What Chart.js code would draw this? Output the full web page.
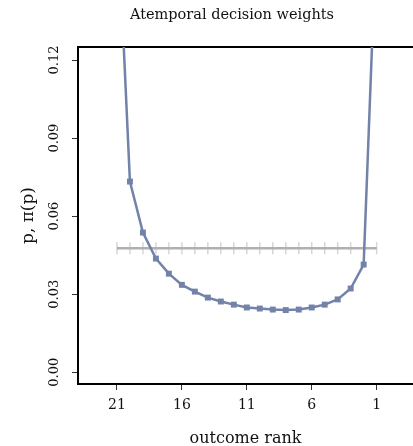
<!DOCTYPE html>
<html>
<head>
<meta charset="utf-8">
<script src="https://cdn.jsdelivr.net/npm/chart.js@4"></script>
<style>
  html, body { margin: 0; padding: 0; background: #fff; overflow: hidden; }
  canvas { display: block; }
</style>
</head>
<body>
<canvas id="c" width="413" height="446"></canvas>
<script>
// ---- data ----
const ranks = [21, 20, 19, 18, 17, 16, 15, 14, 13, 12, 11, 10, 9, 8, 7, 6, 5, 4, 3, 2, 1];
const decisionWeights = [0.182, 0.0733, 0.0537, 0.0437, 0.0379, 0.0336, 0.0310, 0.0287, 0.0272, 0.0260, 0.0249,
                         0.0245, 0.0241, 0.0239, 0.0241, 0.0249, 0.0260, 0.0280, 0.0322, 0.0414, 0.172];
const probabilities = [0.0477, 0.0477, 0.0477, 0.0477, 0.0477, 0.0477, 0.0477, 0.0477, 0.0477, 0.0477, 0.0477,
                       0.0477, 0.0477, 0.0477, 0.0477, 0.0477, 0.0477, 0.0477, 0.0477, 0.0477, 0.0477];
const xTickValues = [21, 16, 11, 6, 1];
const yTickValues = [0.00, 0.03, 0.06, 0.09, 0.12];
const chartTitle = 'Atemporal decision weights';
const xTitle = 'outcome rank';
const yTitle = 'p, π(p)';

const FONT = "'DejaVu Serif', serif";
Chart.defaults.font.family = FONT;
Chart.defaults.color = '#111';

const toXY = (vals) => ranks.map((r, i) => ({ x: r, y: vals[i] }));

new Chart(document.getElementById('c'), {
  type: 'line',
  data: {
    datasets: [
      {
        // tick marks of the probability line
        data: toXY(probabilities),
        showLine: false,
        pointStyle: 'line',
        rotation: 90,
        pointRadius: 6,
        pointHoverRadius: 6,
        pointBorderWidth: 1.5,
        pointBorderColor: '#d6d6d6',
        pointBackgroundColor: '#d6d6d6',
        order: 3,
        xAxisID: 'x', yAxisID: 'y'
      },
      {
        data: toXY(probabilities),
        borderColor: '#b0b0b0',
        borderWidth: 2.5,
        pointRadius: 0,
        pointHoverRadius: 0,
        tension: 0,
        order: 2,
        xAxisID: 'x', yAxisID: 'y'
      },
      {
        data: toXY(decisionWeights),
        borderColor: '#7282a9',
        borderWidth: 2.5,
        pointStyle: 'rect',
        pointRadius: 4.2,
        pointHoverRadius: 4.2,
        pointBorderWidth: 0,
        pointBackgroundColor: '#7282a9',
        tension: 0,
        order: 1,
        xAxisID: 'x', yAxisID: 'y'
      }
    ]
  },
  options: {
    responsive: false,
    animation: false,
    devicePixelRatio: 1,
    layout: { autoPadding: false, padding: { left: 51, right: 0, top: 0, bottom: 0 } },
    plugins: {
      legend: { display: false },
      tooltip: { enabled: false },
      title: {
        display: true,
        text: chartTitle,
        fullSize: true,
        font: { family: FONT, size: 14.5, weight: 'normal' },
        color: '#111',
        padding: { top: 6.3, bottom: 23.3 }
      }
    },
    scales: {
      x: {
        type: 'linear',
        position: 'bottom',
        reverse: true,
        min: -1.8,
        max: 24,
        afterBuildTicks: (s) => { s.ticks = xTickValues.map(v => ({ value: v })); },
        afterFit: (s) => { s.height = 62; s.paddingLeft = 0; s.paddingRight = 0; },
        ticks: {
          autoSkip: false,
          maxRotation: 0,
          padding: 7,
          font: { family: FONT, size: 14 },
          color: '#111',
          callback: (v) => String(v)
        },
        grid: { display: true, drawOnChartArea: false, drawTicks: true, tickLength: 6, color: '#333', tickWidth: 1 },
        border: { display: true, color: '#000', width: 2 },
        title: {
          display: true,
          text: xTitle,
          font: { family: FONT, size: 16 },
          color: '#111',
          padding: { top: 0, bottom: -2.6 }
        }
      },
      xTop: {
        type: 'linear',
        position: 'top',
        min: 0,
        max: 1,
        ticks: { display: false },
        grid: { display: false, drawTicks: false },
        border: { display: true, color: '#000', width: 2 }
      },
      y: {
        type: 'linear',
        position: 'left',
        min: -0.0045,
        max: 0.125,
        afterBuildTicks: (s) => { s.ticks = yTickValues.map(v => ({ value: v })); },
        afterFit: (s) => { s.width = 27; s.paddingTop = 0; s.paddingBottom = 0; },
        ticks: {
          autoSkip: false,
          minRotation: 90,
          maxRotation: 90,
          mirror: true,
          crossAlign: 'center',
          padding: -37.5,
          font: { family: FONT, size: 13 },
          color: '#111',
          callback: (v) => Number(v).toFixed(2)
        },
        grid: { display: true, drawOnChartArea: false, drawTicks: true, tickLength: 6, color: '#333', tickWidth: 1 },
        border: { display: true, color: '#000', width: 2 },
        title: {
          display: true,
          text: yTitle,
          font: { family: FONT, size: 17 },
          color: '#111',
          padding: { top: -33, bottom: 0 }
        }
      }
    }
  }
});
</script>
</body>
</html>
